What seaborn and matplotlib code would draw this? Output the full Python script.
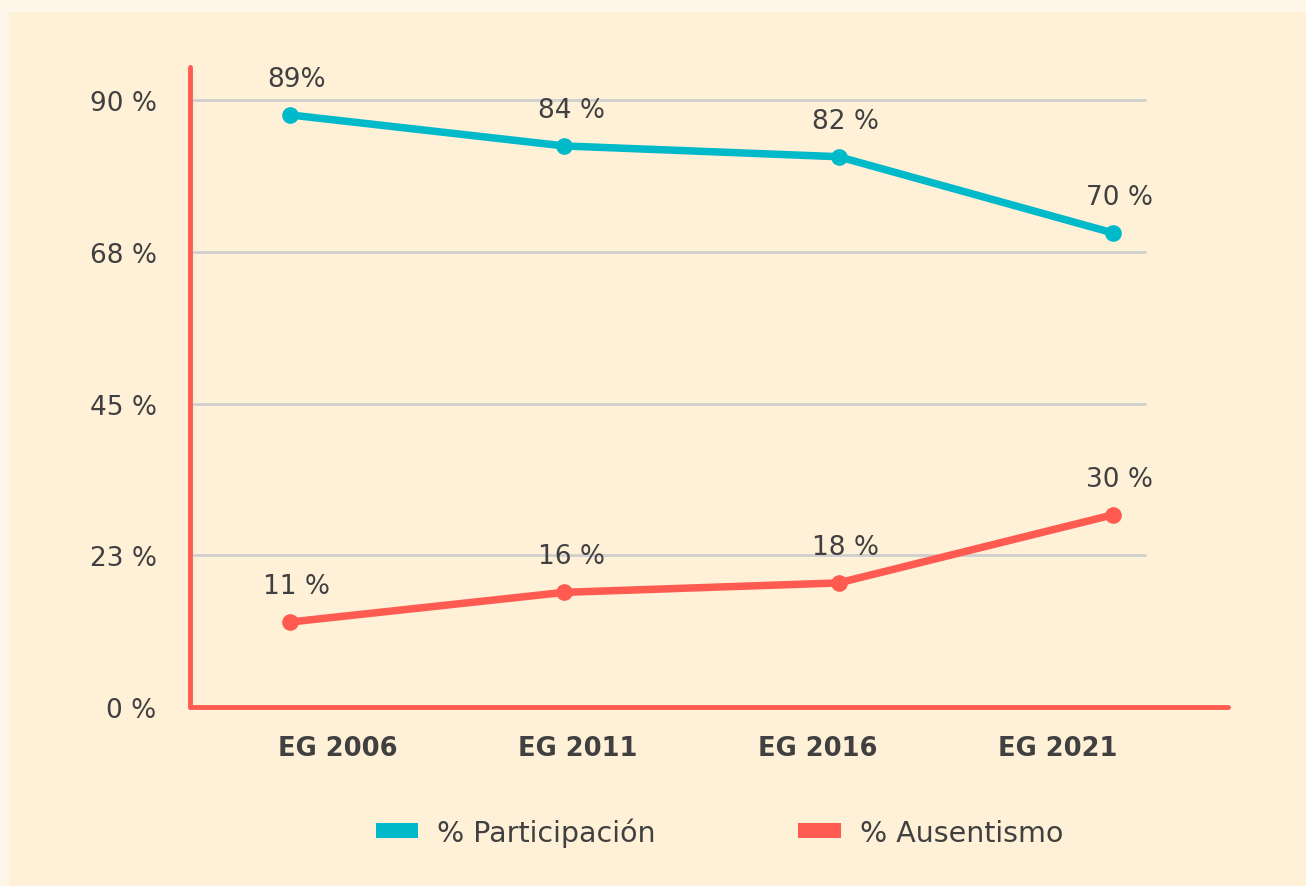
import matplotlib
matplotlib.use("Agg")
import matplotlib.pyplot as plt
import seaborn as sns
import pandas as pd
from matplotlib.patches import Rectangle, Patch

categories = ["EG 2006", "EG 2011", "EG 2016", "EG 2021"]
participacion = [87.8, 83.2, 81.6, 70.3]
participacion_labels = ["89%", "84 %", "82 %", "70 %"]
ausentismo = [12.6, 17.0, 18.4, 28.5]
ausentismo_labels = ["11 %", "16 %", "18 %", "30 %"]
yticks = [0, 22.5, 45, 67.5, 90]
ytick_labels = ["0 %", "23 %", "45 %", "68 %", "90 %"]
series_names = ["% Participación", "% Ausentismo"]

TEAL = "#00B9C9"
RED = "#FF5B50"
TEXT = "#404040"
PANEL = "#FFF0D8"
OUTER = "#FFF6EA"

sns.set_theme(style="white")
plt.rcParams["font.family"] = ["DejaVu Sans"]

fig = plt.figure(figsize=(13.06, 8.87), dpi=100)
fig.patch.set_facecolor(OUTER)
fig.patches.append(Rectangle((9 / 1306, 0), 1, 1 - 13 / 887, transform=fig.transFigure,
                             facecolor=PANEL, edgecolor="none", zorder=-10))

ax = fig.add_axes([0.1455, 0.2018, 0.7945, 0.7215])
ax.set_zorder(2)
ax.set_facecolor("none")

x = list(range(len(categories)))
df = pd.DataFrame({"x": x + x,
                   "value": participacion + ausentismo,
                   "serie": [series_names[0]] * 4 + [series_names[1]] * 4})
sns.lineplot(data=df, x="x", y="value", hue="serie", palette=[TEAL, RED],
             marker="o", markersize=12, markeredgewidth=0, linewidth=5.4,
             legend=False, ax=ax, zorder=3)

for xi, v, lab in zip(x, participacion, participacion_labels):
    ax.annotate(lab, (xi, v), xytext=(5, 26), textcoords="offset points",
                ha="center", va="center", fontsize=19, color=TEXT)
for xi, v, lab in zip(x, ausentismo, ausentismo_labels):
    ax.annotate(lab, (xi, v), xytext=(5, 26), textcoords="offset points",
                ha="center", va="center", fontsize=19, color=TEXT)

ax.set_xlim(-0.364, 3.418)
ax.set_ylim(0, 94.9)

for t in yticks[1:]:
    ax.axhline(t, xmin=0.003, xmax=0.92, color="#CFCFCF", linewidth=2, zorder=1)

ax.set_yticks(yticks)
ax.set_yticklabels(ytick_labels, fontsize=19, color=TEXT)
ax.set_xticks([0.175 + 0.875 * i for i in x])
ax.set_xticklabels(categories, fontsize=18.5, fontweight="bold", color=TEXT)
ax.tick_params(axis="y", length=0, pad=24)
ax.tick_params(axis="x", length=0, pad=20)
ax.set_xlabel("")
ax.set_ylabel("")

for s in ["top", "right"]:
    ax.spines[s].set_visible(False)
for s in ["left", "bottom"]:
    ax.spines[s].set_color(RED)
    ax.spines[s].set_linewidth(3.5)
    ax.spines[s].set_capstyle("round")

handles = [Patch(facecolor=TEAL, edgecolor="none"), Patch(facecolor=RED, edgecolor="none")]
fig.legend(handles, series_names, loc="center", bbox_to_anchor=(0.551, 0.061),
           ncol=2, frameon=False, fontsize=20.5, labelcolor=TEXT,
           handlelength=1.5, handleheight=0.45, handletextpad=0.67, columnspacing=5.0)

fig.savefig("out.png", dpi=100, facecolor=fig.get_facecolor())
